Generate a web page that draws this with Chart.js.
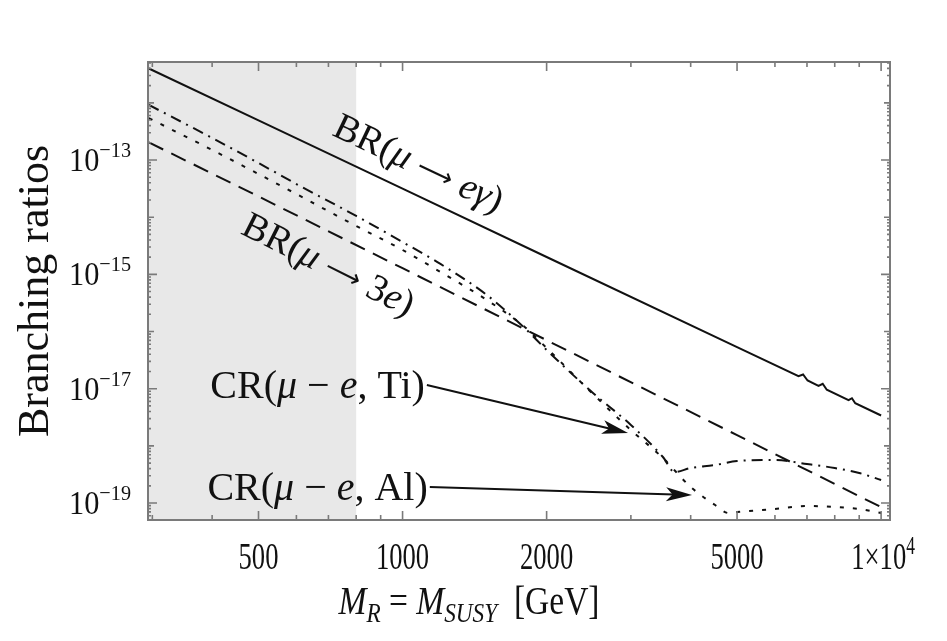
<!DOCTYPE html>
<html>
<head>
<meta charset="utf-8">
<script src="https://cdn.jsdelivr.net/npm/chart.js@4.4.0/dist/chart.umd.min.js"></script>
<style>
  html, body { margin: 0; padding: 0; background: #fff; }
  canvas { display: block; }
</style>
</head>
<body>
<canvas id="brChart" width="947" height="641"></canvas>
<script>
const cvsBR = document.getElementById("brChart");

// M_R = M_SUSY (GeV) e valores
const massEg = [295, 500, 1000, 2000, 5000, 6720, 6870, 7020, 7400, 7550, 7700, 8550, 8690, 8830, 10000];
const brEg   = [3.99e-12, 4.92e-13, 3.15e-14, 2.01e-15, 5.32e-17, 1.65e-17, 1.77e-17, 1.39e-17,
                1.12e-17, 1.22e-17, 9.59e-18, 6.33e-18, 6.82e-18, 5.57e-18, 3.40e-18];

const mass3e = [295, 500, 1000, 2000, 5000, 10000];
const br3e   = [2.03e-13, 2.31e-14, 1.28e-15, 7.05e-17, 1.54e-18, 8.48e-20];

const massTi = [295, 400, 500, 600, 800, 1000, 1200, 1500, 1800, 2000, 2500, 3000, 3500, 3700,
                4000, 4500, 5000, 6000, 7000, 8000, 9000, 10000];
const crTi   = [9.2e-13, 2.43e-13, 8.86e-14, 3.80e-14, 1.05e-14, 3.68e-15, 1.52e-15, 4.35e-16,
                1.15e-16, 4.75e-17, 8.40e-18, 2.32e-18, 6.38e-19, 3.49e-19, 4.10e-19, 4.62e-19,
                5.43e-19, 5.65e-19, 4.82e-19, 4.10e-19, 3.35e-19, 2.53e-19];

const massAl = [295, 400, 500, 600, 800, 1000, 1200, 1500, 1800, 2000, 2500, 3000, 3500, 4000,
                4500, 4800, 5000, 6000, 7000, 8000, 9000, 10000];
const crAl   = [5.4e-13, 1.50e-13, 5.69e-14, 2.54e-14, 7.01e-15, 2.67e-15, 1.10e-15, 3.56e-16,
                1.20e-16, 5.15e-17, 8.07e-18, 1.89e-18, 6.12e-19, 1.91e-19, 9.23e-20, 6.69e-20,
                6.97e-20, 7.86e-20, 8.87e-20, 8.52e-20, 7.86e-20, 6.69e-20];

// eixos
const xMin = 293.8, xMax = 10437;
const yMin = 5.05e-20, yMax = 5.18e-12;
const shadeUntil = 800; // região excluída (cinza)
const xMajor = [500, 1000, 2000, 5000, 10000];
const xLabels = ["500", "1000", "2000", "5000", "1×10"];
const xMinor = [300, 400, 600, 700, 800, 900, 3000, 4000, 6000, 7000, 8000, 9000];
const yLabelExp = [-13, -15, -17, -19];

// setas: [M início, valor início, M fim, valor fim]
const arrowTi = [1124, 1.16e-17, 2959, 1.68e-18];
const arrowAl = [1140, 1.91e-19, 4026, 1.38e-19];

const SERIF = '"Liberation Serif", "DejaVu Serif", serif';
const rm = (s) => `${s}px ${SERIF}`;
const it = (s) => `italic ${s}px ${SERIF}`;
const arw = (s) => `${s}px "DejaVu Sans", sans-serif`;

const pts = (xs, ys) => xs.map((x, i) => ({ x, y: ys[i] }));

// texto com partes (itálico, subscrito, sobrescrito)
function richText(ctx, parts, x, y, opts) {
  const { align = "left", sx = 1, angle = 0 } = opts || {};
  ctx.save();
  ctx.translate(x, y);
  ctx.rotate(angle);
  ctx.scale(sx, 1);
  ctx.textAlign = "left";
  ctx.textBaseline = "alphabetic";
  ctx.fillStyle = "#111";
  let w = 0;
  parts.forEach((p) => { ctx.font = p.font; p.w = ctx.measureText(p.t).width; w += p.w; });
  let cx = align === "center" ? -w / 2 : align === "right" ? -w : 0;
  parts.forEach((p) => { ctx.font = p.font; ctx.fillText(p.t, cx, p.dy || 0); cx += p.w; });
  ctx.restore();
}

function drawArrow(ctx, x0, y0, x1, y1) {
  const a = Math.atan2(y1 - y0, x1 - x0);
  const c = Math.cos(a), s = Math.sin(a);
  const L = 26, W = 7;
  ctx.beginPath();
  ctx.moveTo(x0, y0);
  ctx.lineTo(x1 - L * 0.7 * c, y1 - L * 0.7 * s);
  ctx.stroke();
  ctx.beginPath();
  ctx.moveTo(x1, y1);
  ctx.lineTo(x1 - L * c + W * s, y1 - L * s - W * c);
  ctx.lineTo(x1 - L * 0.75 * c, y1 - L * 0.75 * s);
  ctx.lineTo(x1 - L * c - W * s, y1 - L * s + W * c);
  ctx.closePath();
  ctx.fill();
}

function brLabel(tail) {
  return [
    { t: "BR(", font: rm(38) },
    { t: "μ", font: it(38) },
    { t: " ", font: rm(38) },
    { t: "⟶", font: arw(26), dy: -2 },
    { t: " ", font: rm(38) },
    ...tail,
    { t: ")", font: rm(38) },
  ];
}

// Plugin → faixa cinza, moldura com ticks para dentro, rótulos
const frameTicks = {
  id: "frameTicks",
  beforeDatasetsDraw(chart) {
    const { ctx, chartArea: a, scales: { x } } = chart;
    ctx.save();
    ctx.fillStyle = "#e8e8e8";
    ctx.fillRect(a.left, a.top, x.getPixelForValue(shadeUntil) - a.left, a.bottom - a.top);
    ctx.restore();
  },
  afterDatasetsDraw(chart) {
    const { ctx, chartArea: a, scales: { x, y } } = chart;
    ctx.save();
    ctx.strokeStyle = "#7a7a7a";
    ctx.lineWidth = 1.6;

    const xTick = (v, len) => {
      const px = x.getPixelForValue(v);
      ctx.beginPath();
      ctx.moveTo(px, a.bottom); ctx.lineTo(px, a.bottom - len);
      ctx.moveTo(px, a.top); ctx.lineTo(px, a.top + len);
      ctx.stroke();
    };
    const yTick = (v, len) => {
      const py = y.getPixelForValue(v);
      ctx.beginPath();
      ctx.moveTo(a.left, py); ctx.lineTo(a.left + len, py);
      ctx.moveTo(a.right, py); ctx.lineTo(a.right - len, py);
      ctx.stroke();
    };
    xMajor.forEach((v) => xTick(v, 9));
    xMinor.forEach((v) => xTick(v, 5));
    for (let e = -20; e <= -12; e++) {
      for (let m = 1; m <= 9; m++) {
        const v = m * Math.pow(10, e);
        if (v < yMin || v > yMax) continue;
        yTick(v, m === 1 ? (yLabelExp.includes(e) ? 9 : 6) : 3);
      }
    }

    ctx.lineWidth = 2;
    ctx.strokeRect(a.left, a.top, a.right - a.left, a.bottom - a.top);
    ctx.restore();

    // rótulos eixo x
    xMajor.forEach((v, i) => {
      const px = x.getPixelForValue(v);
      const parts = [{ t: xLabels[i], font: rm(38) }];
      if (v === 10000) parts.push({ t: "4", font: rm(25), dy: -15 });
      richText(ctx, parts, px + (v === 10000 ? 2 : 0), 569, { align: "center", sx: 0.7 });
    });
    // rótulos eixo y
    yLabelExp.forEach((e) => {
      const py = y.getPixelForValue(Math.pow(10, e));
      richText(ctx, [
        { t: "10", font: rm(33) },
        { t: "−" + String(-e), font: rm(22), dy: -14 },
      ], 131, py + 11, { align: "right", sx: 0.92 });
    });

    // títulos dos eixos
    richText(ctx, [{ t: "Branching ratios", font: rm(44) }], 48, 291,
      { align: "center", angle: -Math.PI / 2 });
    richText(ctx, [
      { t: "M", font: it(39) },
      { t: "R", font: it(27), dy: 8 },
      { t: " = ", font: rm(39) },
      { t: "M", font: it(39) },
      { t: "SUSY", font: it(27), dy: 8 },
      { t: "  [GeV]", font: rm(39) },
    ], 469, 614, { align: "center", sx: 0.86 });
  },
  afterDraw(chart) {
    const { ctx, scales: { x, y } } = chart;
    ctx.save();
    ctx.strokeStyle = "#111";
    ctx.fillStyle = "#111";
    ctx.lineWidth = 2;
    const P = (m, v) => [x.getPixelForValue(m), y.getPixelForValue(v)];

    [[arrowTi, "Ti"], [arrowAl, "Al"]].forEach(([arr, el]) => {
      const [x0, y0] = P(arr[0], arr[1]);
      const [x1, y1] = P(arr[2], arr[3]);
      drawArrow(ctx, x0, y0, x1, y1);
      richText(ctx, [
        { t: "CR(", font: rm(40) },
        { t: "μ", font: it(40) },
        { t: " − ", font: rm(40) },
        { t: "e", font: it(40) },
        { t: ", " + el + ")", font: rm(40) },
      ], x0 - 2, y0 + 13, { align: "right" });
    });

    const [ex, ey] = P(1055, 5.7e-14);
    richText(ctx, brLabel([{ t: "eγ", font: it(38) }]), ex, ey,
      { align: "center", angle: Math.atan(0.474) });

    const [tx, ty] = P(683, 9.73e-16);
    richText(ctx, brLabel([{ t: "3", font: rm(38) }, { t: "e", font: it(38) }]), tx, ty,
      { align: "center", angle: Math.atan(0.5) });
    ctx.restore();
  },
};

new Chart(cvsBR, {
  type: "line",
  plugins: [frameTicks],
  data: {
    datasets: [
      {
        label: "BR(μ → eγ)",
        data: pts(massEg, brEg),
        borderColor: "#111",
        borderWidth: 2,
        pointRadius: 0,
      },
      {
        label: "BR(μ → 3e)",
        data: pts(mass3e, br3e),
        borderColor: "#111",
        borderWidth: 2,
        borderDash: [16, 9],
        pointRadius: 0,
      },
      {
        label: "CR(μ − e, Ti)",
        data: pts(massTi, crTi),
        borderColor: "#111",
        borderWidth: 2,
        borderDash: [11, 6, 2, 6],
        cubicInterpolationMode: "monotone",
        pointRadius: 0,
      },
      {
        label: "CR(μ − e, Al)",
        data: pts(massAl, crAl),
        borderColor: "#111",
        borderWidth: 2,
        borderDash: [4, 9],
        cubicInterpolationMode: "monotone",
        pointRadius: 0,
      },
    ],
  },
  options: {
    responsive: false,
    animation: false,
    devicePixelRatio: 1,
    layout: { padding: { left: 148, right: 57, top: 62, bottom: 121 } },
    scales: {
      x: { type: "logarithmic", min: xMin, max: xMax, display: false },
      y: { type: "logarithmic", min: yMin, max: yMax, display: false },
    },
    plugins: {
      legend: { display: false },
      tooltip: { enabled: false },
    },
  },
});
</script>
</body>
</html>
